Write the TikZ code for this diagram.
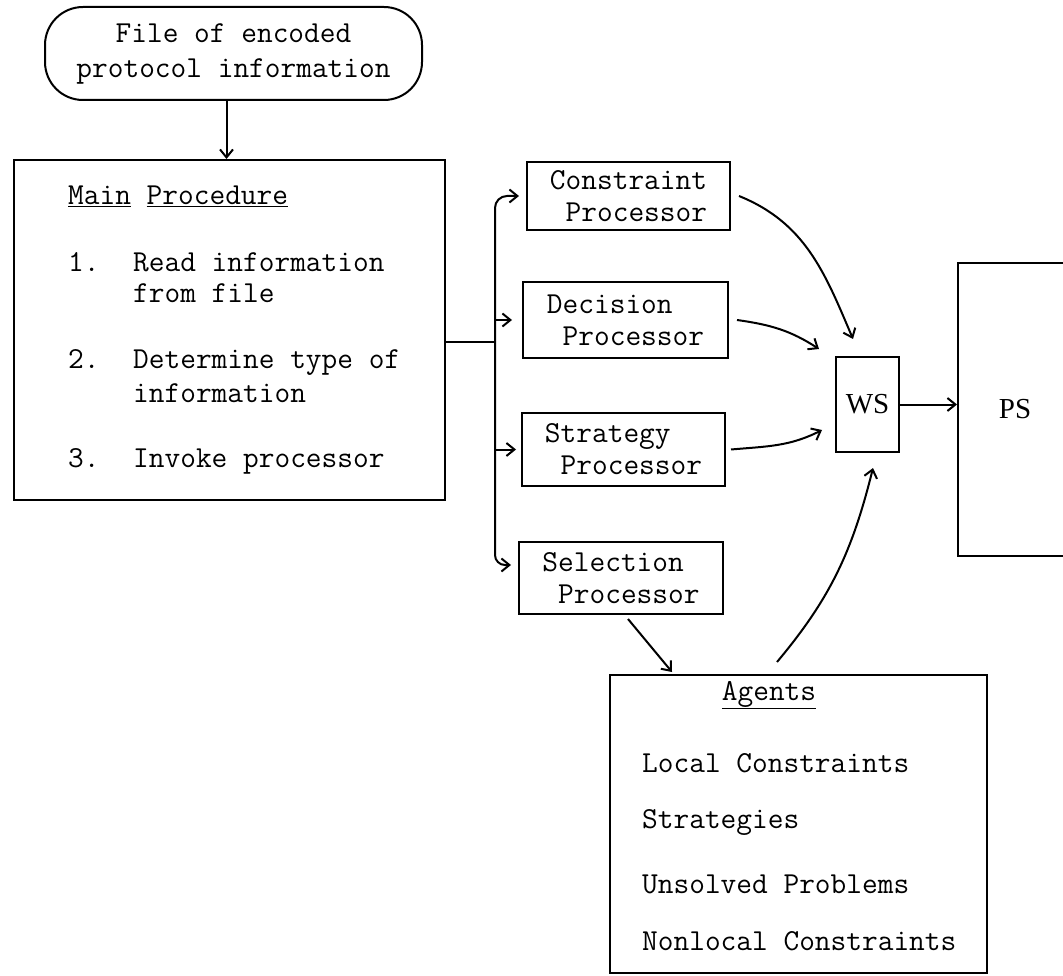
\documentclass[tikz,border=0pt]{standalone}
\usepackage{fontspec}
\newfontfamily\wsfont{Liberation Serif}
\usetikzlibrary{arrows.meta}
\begin{document}
\begin{tikzpicture}[x=1pt,y=1pt,
  every node/.style={font=\ttfamily\fontsize{30.5}{33}\selectfont},
  box/.style={draw, line width=2pt, inner sep=0pt},
  procbox/.style={draw, line width=2pt, align=left,
    font=\ttfamily\fontsize{30.5}{32}\selectfont},
  serifbox/.style={box, font=\wsfont\fontsize{29}{31}\selectfont},
  lbl/.style={anchor=base west, inner sep=0pt},
  arr/.style={line width=2pt, -{Straight Barb[length=8pt,width=13pt]}},
  link/.style={line width=2pt}]

\useasboundingbox (0,0) rectangle (1063,-976);
\clip (0,0) rectangle (1063,-976);

% input file
\node[draw, line width=2pt, rounded corners=38pt, minimum width=377,
      minimum height=93, align=center,
      font=\ttfamily\fontsize{30.5}{35}\selectfont]
  (cloud) at (233.5,-53.5) {File of encoded\\protocol information};

% main procedure
\node[box, minimum width=431, minimum height=340] (main) at (229.5,-330) {};
\node[lbl] (mhead) at (68,-205) {\underline{Main} \underline{Procedure}};
\node[lbl] (n1) at (68,-272) {1.};
\node[lbl] (s1a) at (133,-272) {Read information};
\node[lbl] (s1b) at (133,-303) {from file};
\node[lbl] (n2) at (68,-368) {2.};
\node[lbl] (s2a) at (133,-368) {Determine type of};
\node[lbl] (s2b) at (133,-402) {information};
\node[lbl] (n3) at (68,-467) {3.};
\node[lbl] (s3a) at (133,-467) {Invoke processor};

% processors
\node[procbox, minimum width=203, minimum height=68] (cp) at (628.5,-196) {Constraint\\~Processor};
\node[procbox, minimum width=205, minimum height=76] (dp) at (625.5,-320) {Decision\\~Processor};
\node[procbox, minimum width=203, minimum height=73] (stp) at (623.5,-449.5) {Strategy\\~Processor};
\node[procbox, minimum width=204, minimum height=72] (sp) at (621,-578) {Selection\\~Processor};

% stores
\node[serifbox, minimum width=63, minimum height=95] (ws) at (867.5,-404.5) {WS};
\node[serifbox, minimum width=114, minimum height=293] (ps) at (1015,-409.5) {PS};

% agents
\node[box, minimum width=377, minimum height=298] (ag) at (798.5,-824) {};
\node[anchor=base, inner sep=0pt] (aghead) at (769,-700) {\underline{Agents}};
\node[lbl] (a1) at (642,-772) {Local Constraints};
\node[lbl] (a2) at (642,-828) {Strategies};
\node[lbl] (a3) at (642,-893) {Unsolved Problems};
\node[lbl] (a4) at (642,-950) {Nonlocal Constraints};

% connectors
\coordinate (fork) at (495,-342);
\draw[arr] ([xshift=-7]cloud.south) -- ([xshift=-7]cloud.south |- main.north);
\draw[link] (main.east |- fork) -- (fork);
\draw[arr, rounded corners=12pt] (fork) |- ([xshift=-7]cp.west);
\draw[arr] (fork |- dp.west) -- ([xshift=-10]dp.west);
\draw[arr] (fork |- stp.west) -- ([xshift=-5]stp.west);
\draw[arr, rounded corners=10pt] (fork) |- ([shift={(-7,13)}]sp.west);

\draw[arr] ([xshift=8]cp.east) to[out=-22,in=113] ([shift={(-14.5,17)}]ws.north);
\draw[arr] ([xshift=8]dp.east) to[out=-8,in=147] ([shift={(-16,7)}]ws.north west);
\draw[arr] ([xshift=5]stp.east) to[out=5,in=-153] ([shift={(-13,-25.5)}]ws.west);
\draw[arr] ([shift={(-21.5,12)}]ag.north) to[out=50,in=-104] ([shift={(5.5,-15)}]ws.south);
\draw[arr] (ws.east) -- (ws.east -| ps.west);
\draw[arr] ([shift={(7,-4)}]sp.south) -- ([shift={(63,2)}]ag.north west);
\end{tikzpicture}
\end{document}
